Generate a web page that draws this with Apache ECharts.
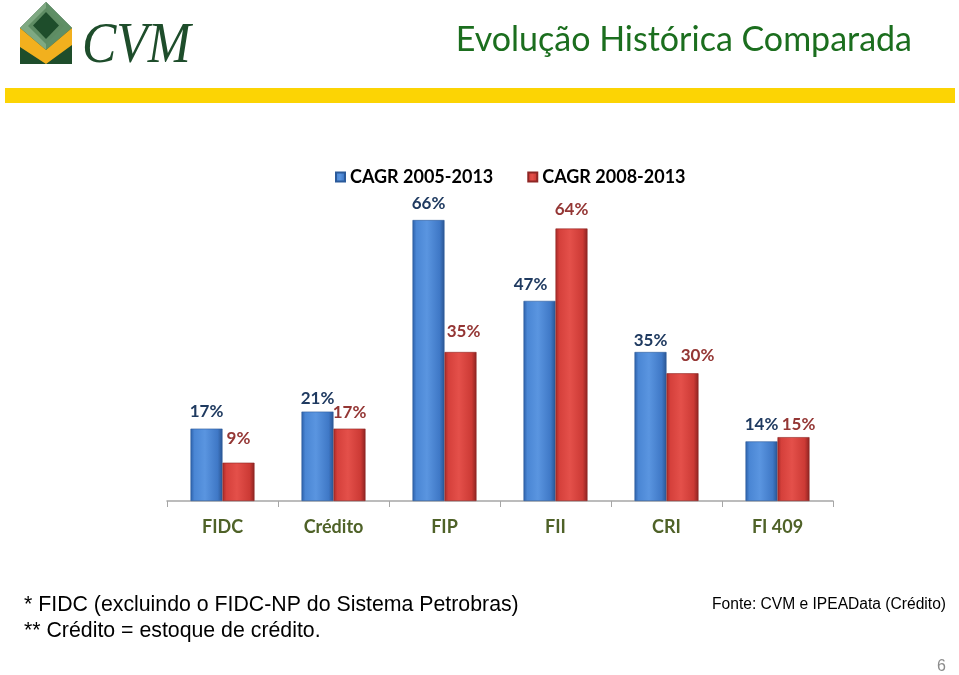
<!DOCTYPE html>
<html>
<head>
<meta charset="utf-8">
<script src="https://cdn.jsdelivr.net/npm/echarts@6/dist/echarts.min.js"></script>
<style>
html,body{margin:0;padding:0;background:#fff;}
#c{width:959px;height:675px;}
</style>
</head>
<body>
<div id="c"></div>
<script>
// ---- data ----
var categories = ['FIDC', 'Crédito', 'FIP', 'FII', 'CRI', 'FI 409'];
var seriesNames = ['CAGR 2005-2013', 'CAGR 2008-2013'];
var cagr0513 = [17, 21, 66, 47, 35, 14];
var cagr0813 = [9, 17, 35, 64, 30, 15];

// ---- label nudges (styling only) ----
var blueNudge = [[0,-1],[0,3],[0,0],[-9,0],[0,5],[0,0]];
var redNudge  = [[0,-8],[0,0],[3,-4],[0,-3],[15,-1],[5,4]];

function items(vals, nudge){
  return vals.map(function(v,i){
    return {value:v, label:{offset:nudge[i]}};
  });
}

var blueGrad = new echarts.graphic.LinearGradient(0,0,1,0,[
  {offset:0,color:'#2C5FA8'},{offset:0.12,color:'#4A86D4'},
  {offset:0.45,color:'#5A95E0'},{offset:0.85,color:'#3F78C6'},{offset:1,color:'#2A5592'}]);
var redGrad = new echarts.graphic.LinearGradient(0,0,1,0,[
  {offset:0,color:'#A52A27'},{offset:0.12,color:'#D5403B'},
  {offset:0.45,color:'#E4504A'},{offset:0.85,color:'#CC3A35'},{offset:1,color:'#8C2321'}]);

var chart = echarts.init(document.getElementById('c'), null, {renderer:'canvas'});
var FONT = 'Lato';

var option = {
  backgroundColor:'#ffffff',
  animation:false,
  legend:{
    top:163, left:330,
    itemWidth:9, itemHeight:9, itemGap:34,
    icon:'rect',
    textStyle:{fontFamily:FONT, fontWeight:'bold', fontSize:18, color:'#000'},
    data:seriesNames
  },
  grid:{left:167, right:126, top:203, bottom:174, containLabel:false},
  xAxis:{
    type:'category', data:categories,
    axisLine:{lineStyle:{color:'#A6A6A6', width:1.5}},
    axisTick:{show:true, length:6, lineStyle:{color:'#A6A6A6'}},
    axisLabel:{fontFamily:FONT, fontWeight:'bold', fontSize:18, color:'#4F6228', margin:17}
  },
  yAxis:{
    type:'value', min:0, max:70, show:false, splitLine:{show:false}
  },
  series:[
    {
      name:seriesNames[0], type:'bar', barWidth:32, barGap:'0%',
      data:items(cagr0513, blueNudge),
      itemStyle:{color:blueGrad, borderColor:'#2B5A9A', borderWidth:0.6},
      label:{show:true, position:'top', distance:8, formatter:'{c}%',
        fontFamily:FONT, fontWeight:'bold', fontSize:17, color:'#1F3A60'}
    },
    {
      name:seriesNames[1], type:'bar', barWidth:32, barGap:'0%',
      data:items(cagr0813, redNudge),
      itemStyle:{color:redGrad, borderColor:'#8E2624', borderWidth:0.6},
      label:{show:true, position:'top', distance:8, formatter:'{c}%',
        fontFamily:FONT, fontWeight:'bold', fontSize:17, color:'#943634'}
    }
  ],
  graphic:[
    // logo
    {type:'polygon', shape:{points:[[20,28],[46,2],[72,28],[72,64],[20,64]]}, style:{fill:'#1E4D2B'}},
    {type:'polygon', shape:{points:[[20,28],[46,2],[46,50]]}, style:{fill:'#7FA982'}},
    {type:'polygon', shape:{points:[[46,2],[72,28],[46,50]]}, style:{fill:'#5F8F66'}},
    {type:'polygon', shape:{points:[[46,8],[64,26],[46,44],[28,26]]}, style:{fill:'#5E8C63'}},
    {type:'polygon', shape:{points:[[46,12],[59,25.5],[46,39],[33,25.5]]}, style:{fill:'#1E4D2B'}},
    {type:'polygon', shape:{points:[[20,28],[46,50],[72,28],[72,45],[46,64],[20,47]]}, style:{fill:'#F2B01E'}},
    {type:'text', x:82, y:75, scaleX:0.92, style:{text:'CVM', font:'italic 56px "Liberation Serif"', fill:'#1E4D2B', textVerticalAlign:'bottom'}},
    // title
    {type:'text', x:912, y:40, style:{text:'Evolução Histórica Comparada', font:'34px Lato', fill:'#1B6E1E', textAlign:'right', textVerticalAlign:'middle'}},
    // yellow band
    {type:'rect', shape:{x:5, y:88, width:950, height:15}, style:{fill:'#FCD404'}},
    // footnotes
    {type:'text', x:24, y:605, style:{text:'* FIDC (excluindo o FIDC-NP do Sistema Petrobras)', font:'21.3px "Liberation Sans"', fill:'#000', textVerticalAlign:'middle'}},
    {type:'text', x:24, y:631, style:{text:'** Crédito = estoque de crédito.', font:'21.3px "Liberation Sans"', fill:'#000', textVerticalAlign:'middle'}},
    {type:'text', x:946, y:605, style:{text:'Fonte: CVM e IPEAData (Crédito)', font:'15.6px "Liberation Sans"', fill:'#000', textAlign:'right', textVerticalAlign:'middle'}},
    {type:'text', x:946, y:667, style:{text:'6', font:'16px "Liberation Sans"', fill:'#8C8C8C', textAlign:'right', textVerticalAlign:'middle'}}
  ]
};
chart.setOption(option);
</script>
</body>
</html>
